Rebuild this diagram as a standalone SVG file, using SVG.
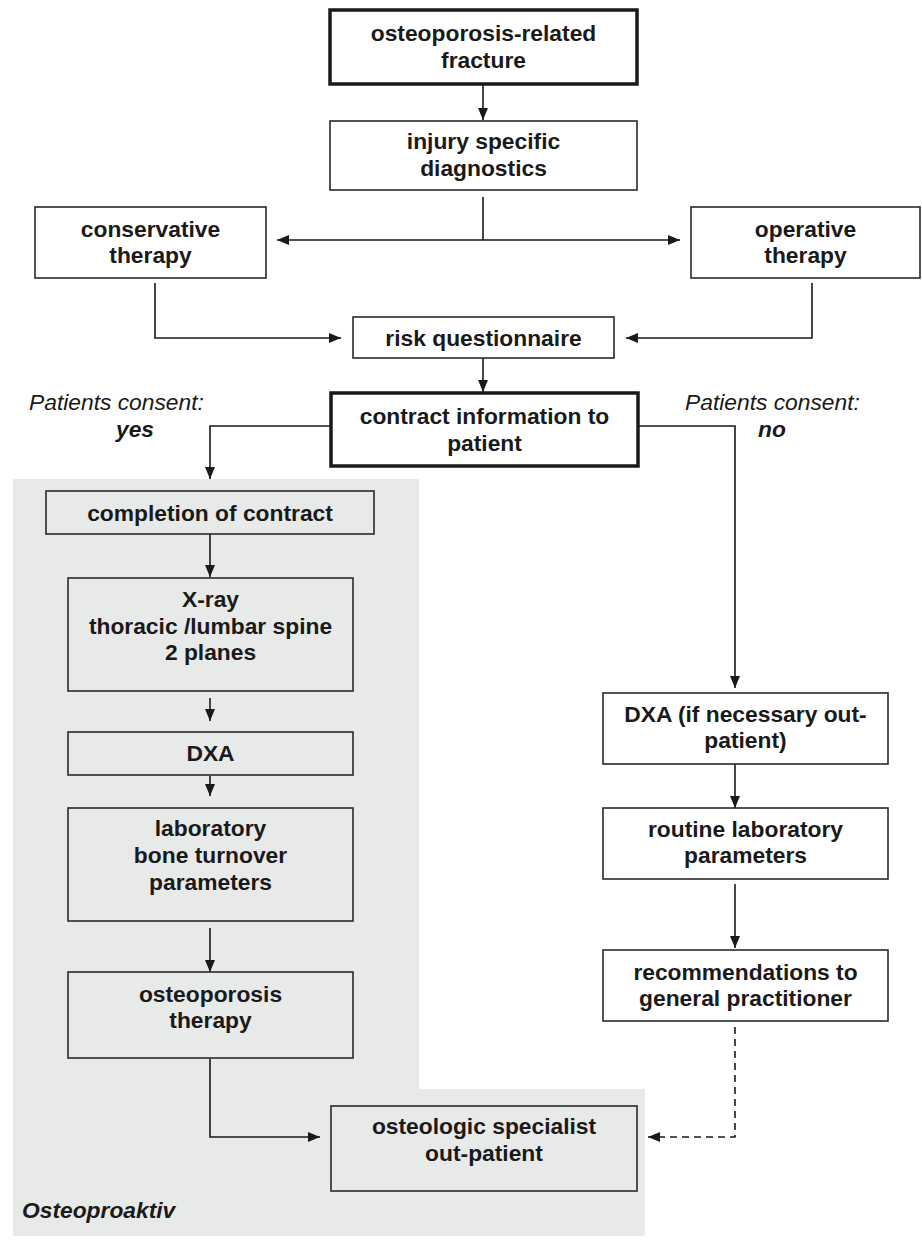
<svg xmlns="http://www.w3.org/2000/svg" width="922" height="1241" viewBox="0 0 922 1241">
<style>
.box{fill:#ffffff;stroke:#2a2a2a;stroke-width:1.6}
.gbox{fill:#e8e9e9;stroke:#2a2a2a;stroke-width:1.6}
.thick{fill:#ffffff;stroke:#1a1a1a;stroke-width:3.5}
.t{font-family:"Liberation Sans",Arial,sans-serif;font-weight:bold;font-size:22.8px;fill:#1a1a1a;text-anchor:middle}
.it{font-family:"Liberation Sans",Arial,sans-serif;font-style:italic;font-size:22.8px;fill:#1a1a1a}
.bi{font-family:"Liberation Sans",Arial,sans-serif;font-style:italic;font-weight:bold;font-size:22.8px;fill:#1a1a1a}
.c{fill:none;stroke:#1a1a1a;stroke-width:1.6}
.a{marker-end:url(#ah)}
.d{stroke-dasharray:7 5}
</style>
<defs>
<marker id="ah" viewBox="0 0 12 10" refX="12" refY="5" markerWidth="12" markerHeight="10" markerUnits="userSpaceOnUse" orient="auto">
<path d="M0,0 L12,5 L0,10 z" fill="#1a1a1a"/>
</marker>
</defs>
<rect width="922" height="1241" fill="#ffffff"/>
<g id="region-osteoproaktiv">
<path d="M13,479 H419 V1089 H645 V1236 H13 Z" fill="#e8e9e9"/>
<text class="bi" x="22" y="1218">Osteoproaktiv</text>
</g>
<g id="labels">
<text class="it" x="29" y="410">Patients consent:</text>
<text class="bi" x="135" y="437" text-anchor="middle">yes</text>
<text class="it" x="685" y="410">Patients consent:</text>
<text class="bi" x="772" y="437" text-anchor="middle">no</text>
</g>
<g id="connectors">
<path class="c a" d="M483,84 V120"/>
<path class="c" d="M483,197 V240"/>
<path class="c a" d="M483,240 H277"/>
<path class="c a" d="M483,240 H680"/>
<path class="c a" d="M155,283 V338 H341"/>
<path class="c a" d="M812,283 V338 H626"/>
<path class="c a" d="M483,358 V392"/>
<path class="c a" d="M331,426 H210 V479"/>
<path class="c a" d="M638,426 H735 V688"/>
<path class="c a" d="M210,534 V577"/>
<path class="c a" d="M210,698 V721"/>
<path class="c a" d="M210,776 V796"/>
<path class="c a" d="M210,928 V972"/>
<path class="c a" d="M210,1059 V1137 H320"/>
<path class="c a" d="M735,764 V808"/>
<path class="c a" d="M735,884 V948"/>
<path class="c d a" d="M735,1027 V1137 H648"/>
</g>
<g id="n-fracture">
<rect class="thick" x="330" y="10" width="307" height="74"/>
<text class="t" x="483.5" y="41">osteoporosis-related</text>
<text class="t" x="483.5" y="68">fracture</text>
</g>
<g id="n-diagnostics">
<rect class="box" x="330" y="121" width="307" height="69"/>
<text class="t" x="483.5" y="149">injury specific</text>
<text class="t" x="483.5" y="176">diagnostics</text>
</g>
<g id="n-conservative">
<rect class="box" x="35" y="207" width="231" height="71"/>
<text class="t" x="150.5" y="237">conservative</text>
<text class="t" x="150.5" y="263">therapy</text>
</g>
<g id="n-operative">
<rect class="box" x="691" y="207" width="229" height="71"/>
<text class="t" x="805.5" y="237">operative</text>
<text class="t" x="805.5" y="263">therapy</text>
</g>
<g id="n-risk">
<rect class="box" x="353" y="317" width="261" height="41"/>
<text class="t" x="483.5" y="345.5">risk questionnaire</text>
</g>
<g id="n-contract">
<rect class="thick" x="331" y="393" width="307" height="73"/>
<text class="t" x="484.5" y="424">contract information to</text>
<text class="t" x="484.5" y="451">patient</text>
</g>
<g id="n-completion">
<rect class="gbox" x="46" y="491" width="328" height="43"/>
<text class="t" x="210" y="520.5">completion of contract</text>
</g>
<g id="n-xray">
<rect class="gbox" x="68" y="578" width="285" height="113"/>
<text class="t" x="210.5" y="607">X-ray</text>
<text class="t" x="210.5" y="634">thoracic /lumbar spine</text>
<text class="t" x="210.5" y="660">2 planes</text>
</g>
<g id="n-dxa">
<rect class="gbox" x="68" y="732" width="285" height="43"/>
<text class="t" x="210.5" y="761">DXA</text>
</g>
<g id="n-laboratory">
<rect class="gbox" x="68" y="808" width="285" height="113"/>
<text class="t" x="210.5" y="836">laboratory</text>
<text class="t" x="210.5" y="863">bone turnover</text>
<text class="t" x="210.5" y="890">parameters</text>
</g>
<g id="n-therapy">
<rect class="gbox" x="68" y="972" width="285" height="86"/>
<text class="t" x="210.5" y="1002">osteoporosis</text>
<text class="t" x="210.5" y="1028">therapy</text>
</g>
<g id="n-specialist">
<rect class="gbox" x="331" y="1106" width="306" height="85"/>
<text class="t" x="484" y="1134">osteologic specialist</text>
<text class="t" x="484" y="1161">out-patient</text>
</g>
<g id="n-dxa-out">
<rect class="box" x="603" y="693" width="285" height="71"/>
<text class="t" x="745.5" y="722">DXA (if necessary out-</text>
<text class="t" x="745.5" y="748">patient)</text>
</g>
<g id="n-routine">
<rect class="box" x="603" y="808" width="285" height="71"/>
<text class="t" x="745.5" y="837">routine laboratory</text>
<text class="t" x="745.5" y="863">parameters</text>
</g>
<g id="n-recommendations">
<rect class="box" x="603" y="950" width="285" height="71"/>
<text class="t" x="745.5" y="980">recommendations to</text>
<text class="t" x="745.5" y="1006">general practitioner</text>
</g>
</svg>
